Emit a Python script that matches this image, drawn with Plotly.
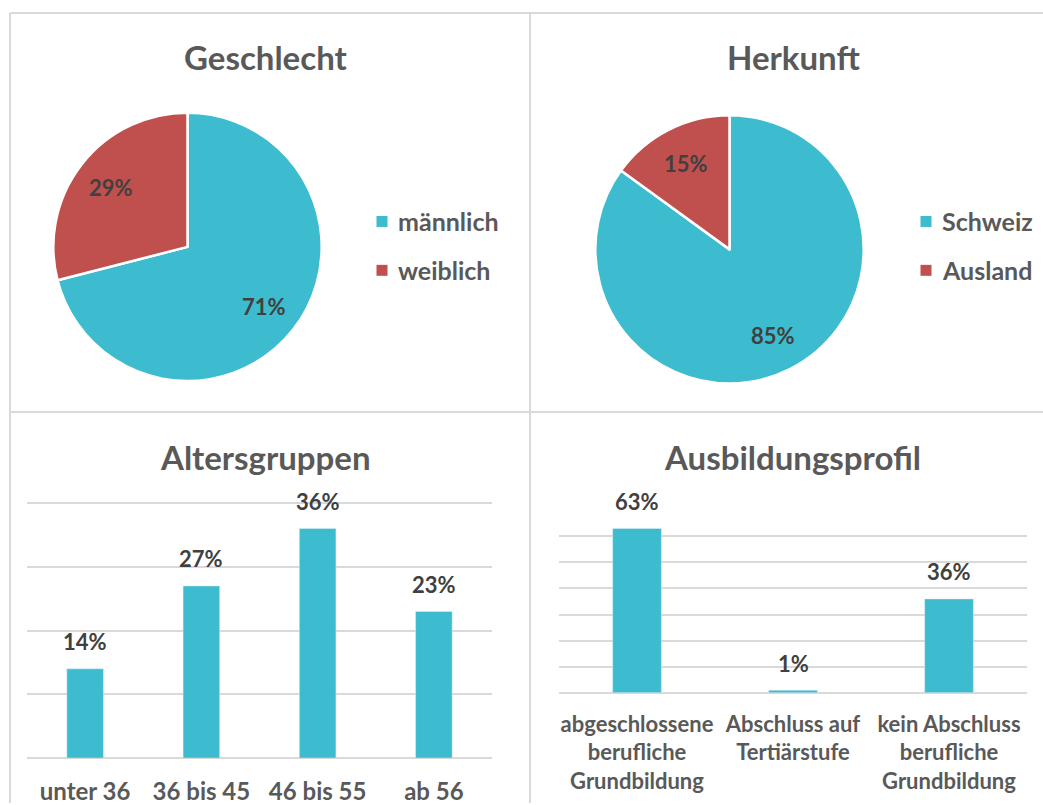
import math
import plotly.graph_objects as go

W, H = 1043, 805

# ---------------- data ----------------
gender_labels = ["männlich", "weiblich"]
gender_values = [71, 29]

origin_labels = ["Schweiz", "Ausland"]
origin_values = [85, 15]

age_groups = ["unter 36", "36 bis 45", "46 bis 55", "ab 56"]
age_values = [14, 27, 36, 23]

edu_groups = ["abgeschlossene<br>berufliche<br>Grundbildung",
              "Abschluss auf<br>Tertiärstufe",
              "kein Abschluss<br>berufliche<br>Grundbildung"]
edu_values = [63, 1, 36]

titles = ["Geschlecht", "Herkunft", "Altersgruppen", "Ausbildungsprofil"]

# ---------------- style ----------------
TEAL = "#3DBBCF"
RED = "#C0504D"
GRID = "#D9D9D9"
TITLE_C = "#595959"
LABEL_C = "#404040"
FONT = "Lato"


def px(x):
    return x / W


def py(y):
    return 1 - y / H


fig = go.Figure()
annotations = []
shapes = []

# Pies (center x, center y, radius in pixels)
pie_specs = [
    (gender_labels, gender_values, 187.5, 247.5, 134.5),
    (origin_labels, origin_values, 729.5, 250.0, 134.5),
]
for labels, vals, cx, cy, r in pie_specs:
    fig.add_trace(go.Pie(
        labels=labels, values=vals, sort=False,
        direction="clockwise", rotation=0,
        marker=dict(colors=[TEAL, RED], line=dict(color="white", width=2.5)),
        textinfo="none",
        domain=dict(x=[px(cx - r), px(cx + r)], y=[py(cy + r), py(cy - r)]),
        showlegend=False, hoverinfo="label+percent",
    ))
    # percentage labels at the middle angle of each slice
    total = sum(vals)
    cum = 0
    for v in vals:
        mid = (cum + v / 2) / total
        cum += v
        th = 2 * math.pi * mid
        lx = cx + 0.72 * r * math.sin(th)
        ly = cy - 0.72 * r * math.cos(th)
        annotations.append(dict(
            x=px(lx), y=py(ly), xref="paper", yref="paper",
            text=f"{round(100 * v / total)}%", showarrow=False,
            xanchor="center", yanchor="middle",
            font=dict(family=FONT, size=22, color=LABEL_C, weight="bold")))

# Bars
fig.add_trace(go.Bar(x=age_groups, y=age_values, marker_color=TEAL, width=0.315,
                     xaxis="x", yaxis="y", showlegend=False))
fig.add_trace(go.Bar(x=edu_groups, y=edu_values, marker_color=TEAL, width=0.3125,
                     xaxis="x2", yaxis="y2", showlegend=False))

# value labels above bars
for cats, vals, xr, yr in [(age_groups, age_values, "x", "y"),
                           (edu_groups, edu_values, "x2", "y2")]:
    for c, v in zip(cats, vals):
        annotations.append(dict(
            x=c, y=v, xref=xr, yref=yr, text=f"{v}%", showarrow=False,
            yanchor="middle", yshift=27,
            font=dict(family=FONT, size=22, color=LABEL_C, weight="bold")))

# titles
title_pos = [(266, 57), (793, 57), (265, 458), (792, 458)]
for t, (tx, ty) in zip(titles, title_pos):
    annotations.append(dict(
        x=px(tx), y=py(ty), xref="paper", yref="paper", text=t, showarrow=False,
        xanchor="center", yanchor="middle",
        font=dict(family=FONT, size=33, color=TITLE_C, weight="bold")))

# manual legends
for labels, sx, tx in [(gender_labels, 382, 396), (origin_labels, 926, 940)]:
    for i, (lab, col) in enumerate(zip(labels, [TEAL, RED])):
        cy = 222 + i * 49
        shapes.append(dict(type="rect", xref="paper", yref="paper",
                           x0=px(sx - 5.5), x1=px(sx + 5.5),
                           y0=py(cy + 5.5), y1=py(cy - 5.5),
                           fillcolor=col, line=dict(width=0)))
        annotations.append(dict(
            x=px(tx), y=py(cy), xref="paper", yref="paper", text=lab,
            showarrow=False, xanchor="left", yanchor="middle",
            font=dict(family=FONT, size=25, color=TITLE_C, weight="bold")))

# panel borders
border = dict(color=GRID, width=2)
shapes += [
    dict(type="line", xref="paper", yref="paper", x0=px(10), x1=1, y0=py(13), y1=py(13), line=border),
    dict(type="line", xref="paper", yref="paper", x0=px(10), x1=1, y0=py(413), y1=py(413), line=border),
    dict(type="line", xref="paper", yref="paper", x0=px(10), x1=px(10), y0=py(13), y1=0, line=border),
    dict(type="line", xref="paper", yref="paper", x0=px(530), x1=px(530), y0=py(13), y1=0, line=border),
]

axis_common = dict(showgrid=True, gridcolor=GRID, gridwidth=2,
                   zeroline=True, zerolinecolor=GRID, zerolinewidth=2,
                   showticklabels=False, ticks="", showline=False, fixedrange=True)
xaxis_common = dict(showgrid=False, zeroline=False, showline=False, ticks="",
                    fixedrange=True)

fig.update_layout(
    width=W, height=H,
    margin=dict(l=0, r=0, t=0, b=0),
    paper_bgcolor="white", plot_bgcolor="white",
    xaxis=dict(domain=[px(27), px(492)], ticklabelstandoff=17,
               tickfont=dict(family=FONT, size=24, color=TITLE_C, weight="bold"),
               **xaxis_common),
    yaxis=dict(domain=[py(760), py(503)], range=[0, 40.2], dtick=10, **axis_common),
    xaxis2=dict(domain=[px(559), px(1027)], ticklabelstandoff=16, anchor="y2",
                tickfont=dict(family=FONT, size=22, color=TITLE_C, weight="bold"),
                **xaxis_common),
    yaxis2=dict(domain=[py(694.5), py(511)], range=[0, 70.2], dtick=10, anchor="x2", **axis_common),
    annotations=annotations,
    shapes=shapes,
    showlegend=False,
)

fig.write_html("out.html", config={"displayModeBar": False},
               post_script="document.body.style.margin='0';document.body.style.overflow='hidden';")
